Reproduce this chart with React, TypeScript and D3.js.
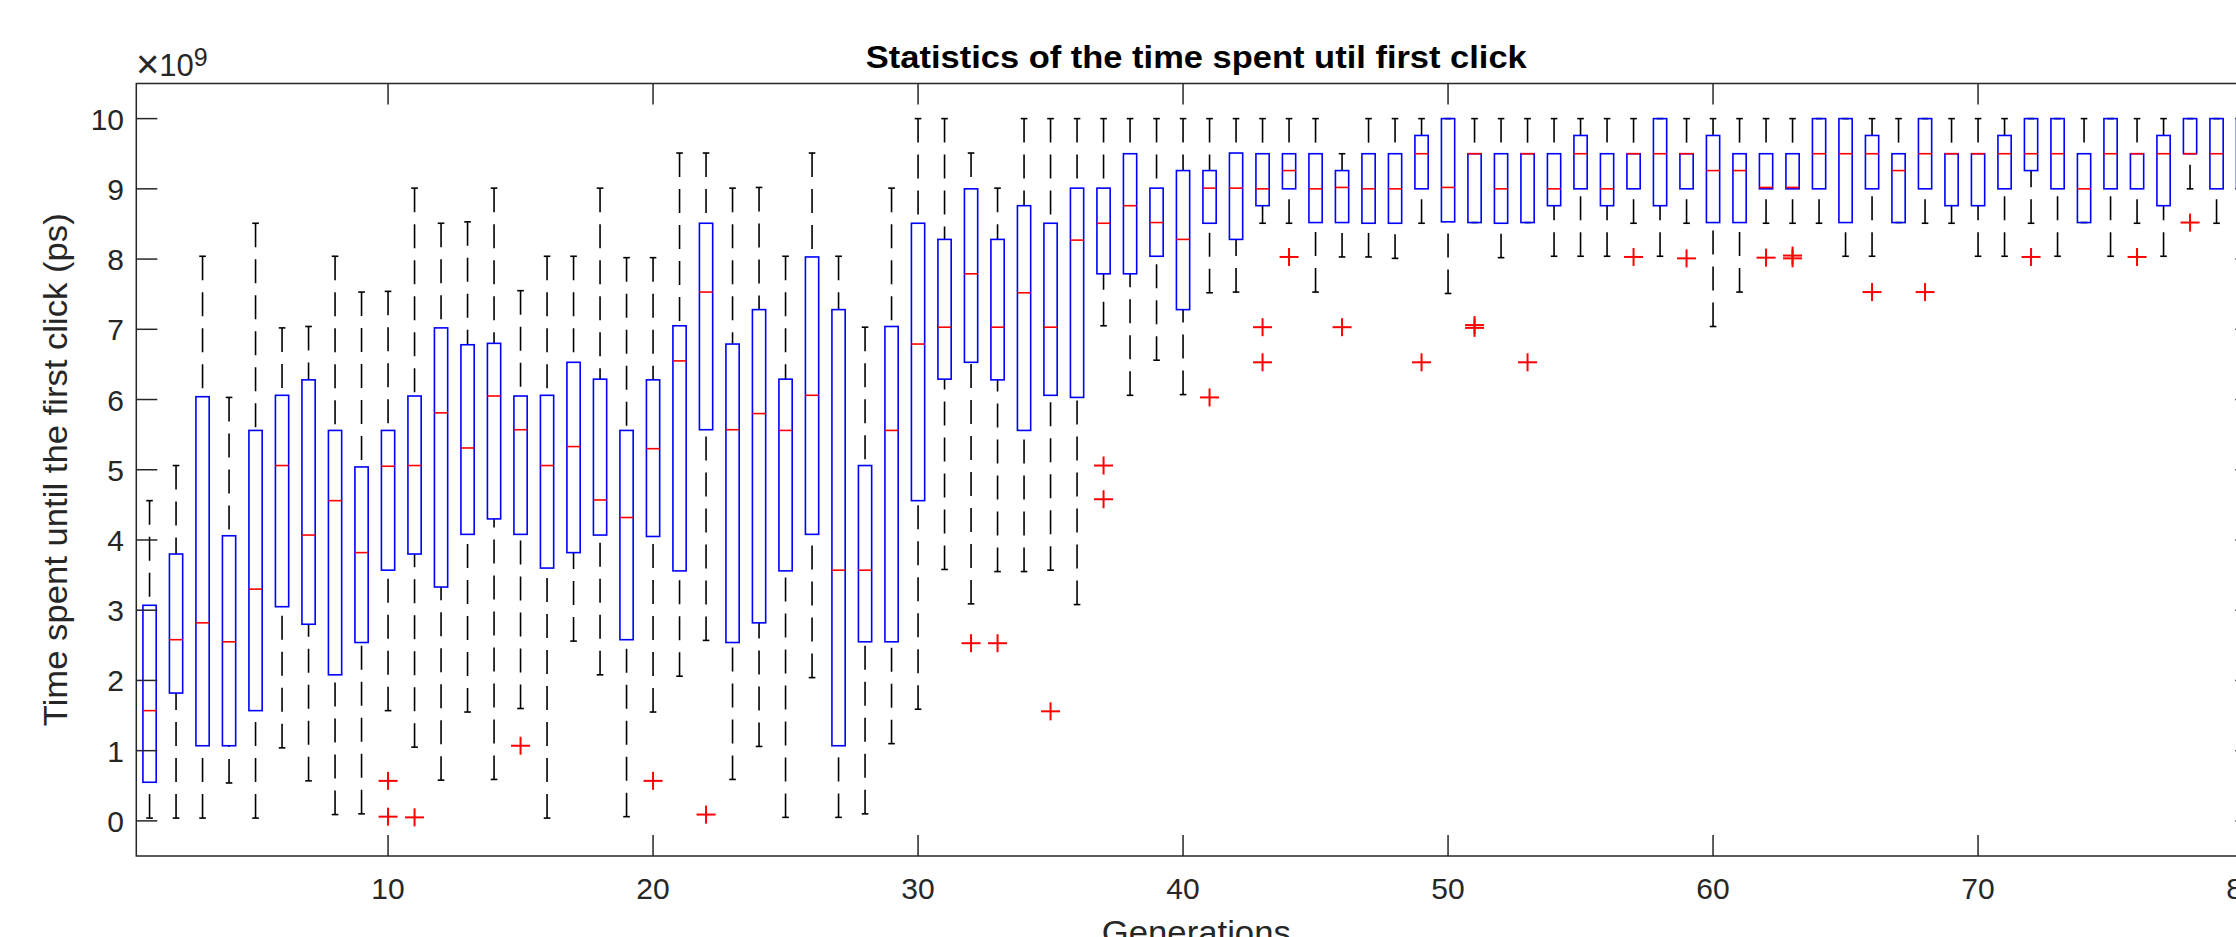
import React from "react";
import * as d3 from "d3";

const generations = d3.range(1, 81);

const upperWhisker = [
  4.56, 5.06, 8.04, 6.03, 8.51, 7.02, 7.04, 8.04, 7.53, 7.54,
  9.01, 8.51, 8.53, 9.01, 7.55, 8.04, 8.04, 9.01, 8.02, 8.02,
  9.51, 9.51, 9.01, 9.02, 8.04, 9.51, 8.04, 7.03, 9.01, 10,
  10, 9.51, 9.01, 10, 10, 10, 10, 10, 10, 10,
  10, 10, 10, 10, 10, 9.5, 10, 10, 10, 10,
  10, 10, 10, 10, 10, 10, 10, 10, 10, 10,
  10, 10, 10, 10, 10, 10, 10, 10, 10, 10,
  10, 10, 10, 10, 10, 10, 10, 10, 10, 10,
];

const q3 = [
  3.07, 3.8, 6.04, 4.06, 5.56, 6.06, 6.28, 5.56, 5.04, 5.56,
  6.05, 7.02, 6.78, 6.8, 6.05, 6.06, 6.53, 6.29, 5.56, 6.28,
  7.05, 8.51, 6.79, 7.28, 6.29, 8.03, 7.28, 5.06, 7.04, 8.51,
  8.28, 9.0, 8.28, 8.76, 8.51, 9.01, 9.01, 9.5, 9.01, 9.26,
  9.26, 9.51, 9.5, 9.5, 9.5, 9.26, 9.5, 9.5, 9.76, 10,
  9.5, 9.5, 9.5, 9.5, 9.76, 9.5, 9.5, 10, 9.5, 9.76,
  9.5, 9.5, 9.5, 10, 10, 9.76, 9.5, 10, 9.5, 9.5,
  9.76, 10, 10, 9.5, 10, 9.5, 9.76, 10, 10, 10,
];

const median = [
  1.57, 2.58, 2.82, 2.55, 3.3, 5.06, 4.07, 4.56, 3.82, 5.05,
  5.06, 5.81, 5.31, 6.05, 5.57, 5.06, 5.33, 4.57, 4.32, 5.3,
  6.55, 7.53, 5.57, 5.8, 5.56, 6.06, 3.57, 3.57, 5.56, 6.79,
  7.03, 7.79, 7.03, 7.52, 7.03, 8.27, 8.51, 8.76, 8.52, 8.28,
  9.01, 9.01, 9.0, 9.26, 9.0, 9.02, 9.0, 9.0, 9.5, 9.02,
  9.5, 9.0, 9.5, 9.0, 9.5, 9.0, 9.5, 9.5, 9.5, 9.26,
  9.26, 9.02, 9.02, 9.5, 9.5, 9.5, 9.26, 9.5, 9.5, 9.5,
  9.5, 9.5, 9.5, 9.0, 9.5, 9.5, 9.5, 9.5, 9.5, 9.5,
];

const q1 = [
  0.55, 1.82, 1.07, 1.07, 1.57, 3.05, 2.8, 2.08, 2.54, 3.57,
  3.8, 3.33, 4.08, 4.3, 4.08, 3.6, 3.82, 4.07, 2.58, 4.05,
  3.56, 5.57, 2.54, 2.82, 3.56, 4.08, 1.07, 2.55, 2.55, 4.56,
  6.29, 6.53, 6.28, 5.56, 6.06, 6.03, 7.79, 7.79, 8.04, 7.28,
  8.51, 8.28, 8.76, 9.0, 8.52, 8.52, 8.51, 8.51, 9.0, 8.53,
  8.52, 8.51, 8.52, 8.76, 9.0, 8.76, 9.0, 8.76, 9.0, 8.52,
  8.52, 9.0, 9.0, 9.0, 8.52, 9.0, 8.52, 9.0, 8.76, 8.76,
  9.0, 9.26, 9.0, 8.52, 9.0, 9.0, 8.76, 9.5, 9.0, 9.0,
];

const lowerWhisker = [
  0.04, 0.04, 0.04, 0.54, 0.04, 1.04, 0.57, 0.09, 0.1, 1.57,
  1.05, 0.58, 1.55, 0.59, 1.6, 0.04, 2.56, 2.08, 0.06, 1.55,
  2.06, 2.57, 0.59, 1.06, 0.05, 2.04, 0.05, 0.1, 1.1, 1.59,
  3.58, 3.09, 3.55, 3.55, 3.57, 3.08, 7.05, 6.06, 6.56, 6.07,
  7.52, 7.53, 8.51, 8.51, 7.53, 8.03, 8.03, 8.01, 8.51, 7.51,
  8.52, 8.02, 8.52, 8.04, 8.04, 8.04, 8.51, 8.04, 8.51, 7.04,
  7.53, 8.51, 8.51, 8.51, 8.04, 8.04, 8.52, 8.51, 8.51, 8.04,
  8.04, 8.51, 8.04, 8.52, 8.04, 8.51, 8.04, 9.0, 8.51, 8.51,
];

const outlierGen = [
  10, 10, 11, 15, 20, 22, 32, 33, 35, 37, 37, 41, 43, 43, 44, 46, 49,
  51, 51, 53, 57, 59, 62, 63, 63, 66, 68, 72, 76, 78,
];
const outlierVal = [
  0.57, 0.06, 0.05, 1.07, 0.57, 0.09, 2.53, 2.53, 1.56, 5.06, 4.58, 6.03,
  7.03, 6.53, 8.03, 7.03, 6.53, 7.02, 7.06, 6.53, 8.03, 8.01, 8.02, 8.01,
  8.05, 7.53, 7.53, 8.03, 8.03, 8.52,
];

const xTicks = [10, 20, 30, 40, 50, 60, 70, 80];
const yTicks = [0, 1, 2, 3, 4, 5, 6, 7, 8, 9, 10];

const titleText = "Statistics of the time spent util first click";
const xLabelText = "Generations";
const yLabelText = "Time spent until the first click (ps)";

const W = 2236;
const H = 937;
const FONT = "'Liberation Sans', Arial, Helvetica, sans-serif";
const AX = "#262626";

export default function App() {
  const x = d3.scaleLinear().domain([0.5, 80.5]).range([136.3, 2256.3]);
  const y = d3.scaleLinear().domain([-0.5, 10.5]).range([856, 83.5]);
  const halfBox = x(1.25) - x(1);
  const halfCap = x(1.125) - x(1);
  const tickLen = 21;
  const [x0, x1] = x.range();
  const [yb, yt] = y.range();

  return (
    <>
      <style>{"html,body{margin:0;padding:0;overflow:hidden;background:#fff}"}</style>
      <svg width={W} height={H} style={{ display: "block" }} fontFamily={FONT}>
        <rect x={0} y={0} width={W} height={H} fill="#fff" />
        <g>
          {generations.map((g, i) => {
            const cx = x(g);
            const up = upperWhisker[i];
            const lo = lowerWhisker[i];
            return (
              <g key={g}>
                {up > q3[i] && (
                  <line x1={cx} x2={cx} y1={y(up)} y2={y(q3[i])} stroke="#000" strokeWidth={1.6} strokeDasharray="24 12" />
                )}
                {lo < q1[i] && (
                  <line x1={cx} x2={cx} y1={y(lo)} y2={y(q1[i])} stroke="#000" strokeWidth={1.6} strokeDasharray="24 12" />
                )}
                <line x1={cx - halfCap} x2={cx + halfCap} y1={y(up)} y2={y(up)} stroke="#000" strokeWidth={1.6} />
                <line x1={cx - halfCap} x2={cx + halfCap} y1={y(lo)} y2={y(lo)} stroke="#000" strokeWidth={1.6} />
                <rect
                  x={cx - halfBox}
                  y={y(q3[i])}
                  width={2 * halfBox}
                  height={Math.max(0, y(q1[i]) - y(q3[i]))}
                  fill="none"
                  stroke="#0000ff"
                  strokeWidth={1.6}
                />
                <line x1={cx - halfBox} x2={cx + halfBox} y1={y(median[i])} y2={y(median[i])} stroke="#ff0000" strokeWidth={1.6} />
              </g>
            );
          })}
        </g>
        <g stroke="#ff0000" strokeWidth={2}>
          {outlierGen.map((g, i) => {
            const px = x(g);
            const py = y(outlierVal[i]);
            return (
              <g key={"o" + i}>
                <line x1={px - 9.5} x2={px + 9.5} y1={py} y2={py} />
                <line x1={px} x2={px} y1={py - 9} y2={py + 9} />
              </g>
            );
          })}
        </g>
        <rect x={x0} y={yt} width={x1 - x0} height={yb - yt} fill="none" stroke={AX} strokeWidth={1.5} />
        <g stroke={AX} strokeWidth={1.5}>
          {xTicks.map((t) => (
            <g key={"xt" + t}>
              <line x1={x(t)} x2={x(t)} y1={yb} y2={yb - tickLen} />
              <line x1={x(t)} x2={x(t)} y1={yt} y2={yt + tickLen} />
            </g>
          ))}
          {yTicks.map((t) => (
            <g key={"yt" + t}>
              <line x1={x0} x2={x0 + tickLen} y1={y(t)} y2={y(t)} />
              <line x1={x1} x2={x1 - tickLen} y1={y(t)} y2={y(t)} />
            </g>
          ))}
        </g>
        <g fill={AX} fontSize={30}>
          {xTicks.map((t) => (
            <text key={"xl" + t} x={x(t)} y={899} textAnchor="middle">
              {t}
            </text>
          ))}
          {yTicks.map((t) => (
            <text key={"yl" + t} x={124} y={y(t) + 11} textAnchor="end">
              {t}
            </text>
          ))}
        </g>
        <text x={136} y={76} fill={AX} fontSize={31}>
          <tspan fontSize={40} dy={2}>×</tspan>
          <tspan dy={-2}>10</tspan>
          <tspan fontSize={25} dy={-10}>
            9
          </tspan>
        </text>
        <text
          x={(x0 + x1) / 2}
          y={68}
          textAnchor="middle"
          fontSize={32}
          fontWeight="bold"
          fill="#000"
          textLength={661}
          lengthAdjust="spacingAndGlyphs"
        >
          {titleText}
        </text>
        <text
          x={(x0 + x1) / 2}
          y={944}
          textAnchor="middle"
          fontSize={34}
          fill={AX}
          textLength={189}
          lengthAdjust="spacingAndGlyphs"
        >
          {xLabelText}
        </text>
        <text
          transform={`translate(67,${(yt + yb) / 2}) rotate(-90)`}
          textAnchor="middle"
          fontSize={34}
          fill={AX}
          textLength={513}
          lengthAdjust="spacingAndGlyphs"
        >
          {yLabelText}
        </text>
      </svg>
    </>
  );
}
